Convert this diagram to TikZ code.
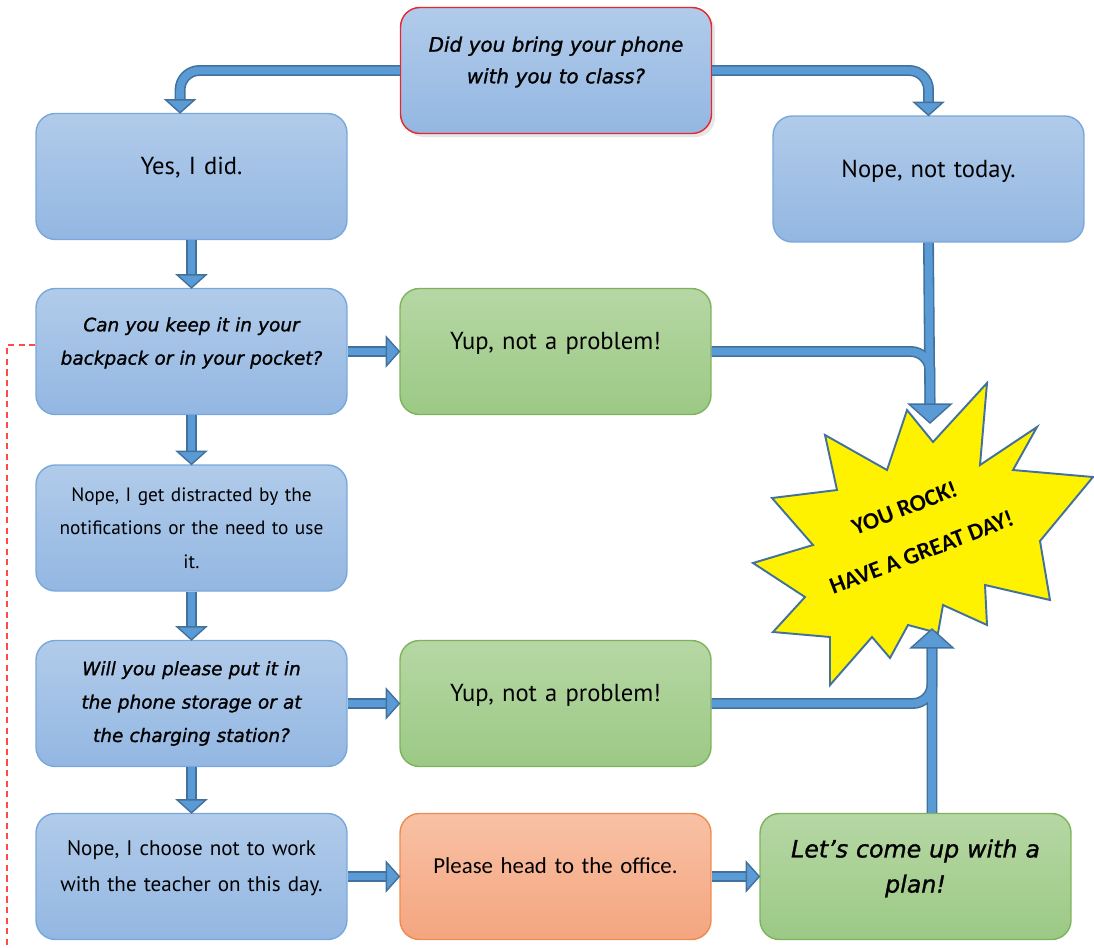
\documentclass[tikz,border=0pt]{standalone}
\usepackage{fontspec}
\setmainfont{Carlito}
\newfontfamily\askfont[WordSpace=1.6, FakeBold=1.2]{DejaVu Sans}
\newfontfamily\handfont{PT Sans}
\usetikzlibrary{calc,shadows}

\definecolor{boxblue}{HTML}{B1CBEA}
\definecolor{boxblue2}{HTML}{93B7E2}
\definecolor{boxedge}{HTML}{7AA7DB}
\definecolor{boxgreen}{HTML}{B6D7A4}
\definecolor{boxgreen2}{HTML}{9CC985}
\definecolor{greenedge}{HTML}{7EB35C}
\definecolor{boxorange}{HTML}{F8C1A5}
\definecolor{boxorange2}{HTML}{F4A57F}
\definecolor{orangeedge}{HTML}{EE8C4E}
\definecolor{arrowblue}{HTML}{5B9BD5}
\definecolor{arrowedge}{HTML}{41719C}
\definecolor{alertred}{HTML}{E8262D}
\definecolor{dashred}{HTML}{FF4A4A}

\tikzset{
  card/.style={rectangle, rounded corners=11pt, minimum width=6.22cm, minimum height=2.52cm,
    text width=5.8cm, align=center, inner sep=0pt, draw=boxedge, line width=0.8pt,
    top color=boxblue, bottom color=boxblue2},
  yupcard/.style={card, draw=greenedge, top color=boxgreen, bottom color=boxgreen2},
  officecard/.style={card, draw=orangeedge, top color=boxorange, bottom color=boxorange2},
  ask/.style={font=\askfont\itshape\fontsize{10.5}{19}\selectfont},
  bigask/.style={font=\askfont\itshape\fontsize{13.5}{20}\selectfont},
  reply/.style={font=\handfont\fontsize{14}{20}\selectfont},
  smallreply/.style={font=\handfont\fontsize{11}{19}\selectfont},
  lifted/.style={execute at end node={\rule[-12pt]{0pt}{12pt}}},
  pics/blockhead/.style={code={
    \filldraw[fill=arrowblue, draw=arrowedge, line width=0.8pt] (0,0) -- (-13,-14.5) -- (-13,14.5) -- cycle;}},
}

% every connector of the chart, drawn twice (edge, then fill)
\newcommand{\flowlinks}{%
  \draw (bring.west) -| ([xshift=-6.5pt]yes.north);
  \draw (bring.east) -| (today.north);
  \draw (yes.south) -- (pocket.north);
  \draw (pocket.east) -- (yup1.west);
  \draw (pocket.south) -- (distracted.north);
  \draw (distracted.south) -- (storage.north);
  \draw (storage.east) -- (yup2.west);
  \draw (storage.south) -- (refuse.north);
  \draw (refuse.east) -- (office.west);
  \draw (office.east) -- (plan.west);
  \draw[shorten >=10pt] (today.south) -- (rock top);
  \draw[shorten >=10pt] (yup1.east) -| (rock top);
  \draw[shorten >=10pt] ([xshift=9.4pt]plan.north) -- (rock foot);
  \draw[shorten >=10pt] (yup2.east) -| (rock foot);
}

\begin{document}
\begin{tikzpicture}[x=0.02cm, y=-0.02cm]
  \useasboundingbox (0,0) rectangle (1094,947);

  % Question at the top
  \node[card, ask, font=\askfont\itshape\fontsize{11.3}{18}\selectfont, lifted, draw=alertred,
        drop shadow={opacity=0.2, shadow xshift=2pt, shadow yshift=-2pt}] (bring) at (556,70.5)
       {Did you bring your phone\\with you to class?};

  % Left column
  \node[card, reply, lifted] (yes) at (191.5,176.5) {Yes, I did.};
  \node[card, ask, lifted] (pocket) at (191.5,351.5) {Can you keep it in your\\backpack or in your pocket?};
  \node[card, smallreply] (distracted) at (191.5,528)
       {Nope, I get distracted by the\\notifications or the need to use\\it.};
  \node[card, ask] (storage) at (191.5,703.5)
       {Will you please put it in\\the phone storage or at\\the charging station?};
  \node[card, reply, font=\handfont\fontsize{12}{20}\selectfont, lifted] (refuse) at (191.5,876.5)
       {Nope, I choose not to work\\with the teacher on this day.};

  % Middle column
  \node[yupcard, reply, lifted] (yup1) at (555.5,351.5) {Yup, not a problem!};
  \node[yupcard, reply, lifted] (yup2) at (555.5,703.5) {Yup, not a problem!};
  \node[officecard, font=\fontsize{13}{16}\selectfont, lifted] (office) at (555.5,876.5)
       {Please head to the office.};

  % Right column
  \node[card, reply, lifted] (today) at (928.5,179) {Nope, not today.};
  \node[yupcard, bigask, lifted] (plan) at (915.5,876.5) {Let’s come up with a\\plan!};

  % Starburst
  \filldraw[fill=yellow, draw=arrowedge, line width=1.1pt]
    (987,383) -- (980,465) -- (1037,427) -- (1013,470) -- (1093,477) -- (1040,541)
    -- (1050,600) -- (985,585) -- (987,625) -- (943,605) -- (938,633) -- (908,625)
    -- (890,658) -- (872,637) -- (830,685) -- (830,637) -- (773,632) -- (805,597)
    -- (753,563) -- (813,545) -- (772,498) -- (837,490) -- (825,435) -- (887,470)
    -- (907,410) -- (933,442) -- cycle;
  \node[rotate=21, align=center, font=\bfseries\fontsize{13.5}{16}\selectfont] (rock) at (913,530)
       {YOU ROCK!\\[11pt]HAVE A GREAT DAY!};
  \coordinate (rock top) at (930,423);
  \coordinate (rock foot) at (932,629);

  % Dashed return line
  \coordinate (dash end) at (7,947);
  \draw[dashred, dashed, dash pattern=on 3.5pt off 2.5pt, line width=0.8pt]
    ([yshift=3.7pt]pocket.west) -| (dash end);

  % Block arrows
  \begin{scope}[line width=6.2pt, arrowedge, rounded corners=11pt, shorten >=6pt]
    \flowlinks
  \end{scope}
  \begin{scope}[line width=4.4pt, arrowblue, rounded corners=11pt, shorten >=6pt]
    \flowlinks
  \end{scope}

  % Arrow heads
  \pic[rotate=-90] at ([xshift=-6.5pt]yes.north) {blockhead};
  \pic[rotate=-90] at (today.north) {blockhead};
  \pic[rotate=-90] at (pocket.north) {blockhead};
  \pic at (yup1.west) {blockhead};
  \pic[rotate=-90] at (distracted.north) {blockhead};
  \pic[rotate=-90] at (storage.north) {blockhead};
  \pic at (yup2.west) {blockhead};
  \pic[rotate=-90] at (refuse.north) {blockhead};
  \pic at (office.west) {blockhead};
  \pic at (plan.west) {blockhead};
  \pic[rotate=-90, scale=1.45] at (rock top) {blockhead};
  \pic[rotate=90, scale=1.45] at (rock foot) {blockhead};
\end{tikzpicture}
\end{document}
